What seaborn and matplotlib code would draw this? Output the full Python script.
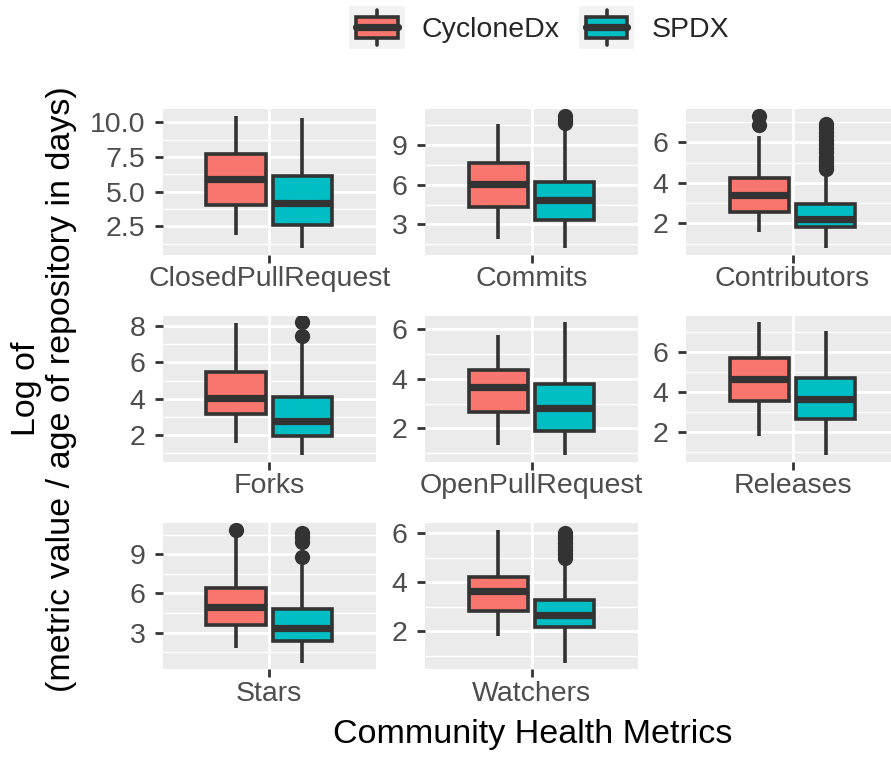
import numpy as np
import pandas as pd
import matplotlib
matplotlib.use("Agg")
import matplotlib.pyplot as plt
import seaborn as sns
from matplotlib.patches import Patch, Rectangle
from matplotlib.lines import Line2D
from matplotlib.legend_handler import HandlerBase
from matplotlib.ticker import AutoMinorLocator

# Metricas y formatos
metrics = ["ClosedPullRequest", "Commits", "Contributors", "Forks",
           "OpenPullRequest", "Releases", "Stars", "Watchers"]
formats = ["CycloneDx", "SPDX"]
colors = ["#F8766D", "#00BFC4"]

# Resumen de cajas (bigote bajo, Q1, mediana, Q3, bigote alto, atipicos)
cdx_low = [1.85, 1.87, 1.59, 1.58, 1.34, 1.77, 1.86, 1.79]
cdx_q1 = [4.00, 4.32, 2.58, 3.14, 2.66, 3.54, 3.56, 2.82]
cdx_med = [5.88, 6.02, 3.41, 4.02, 3.68, 4.62, 4.95, 3.64]
cdx_q3 = [7.73, 7.65, 4.23, 5.49, 4.33, 5.70, 6.42, 4.21]
cdx_high = [10.48, 10.58, 6.33, 8.19, 5.77, 7.47, 10.45, 6.14]
cdx_out = [[], [], [6.86, 7.32], [], [], [], [10.85], []]

spdx_low = [0.90, 1.20, 0.76, 0.90, 0.93, 0.84, 0.72, 0.71]
spdx_q1 = [2.62, 3.32, 1.82, 1.95, 1.88, 2.63, 2.35, 2.18]
spdx_med = [4.17, 4.82, 2.20, 2.77, 2.82, 3.62, 3.38, 2.65]
spdx_q3 = [6.12, 6.20, 2.95, 4.11, 3.77, 4.69, 4.85, 3.27]
spdx_high = [10.30, 10.45, 4.40, 7.00, 6.26, 7.03, 8.20, 4.73]
spdx_out = [[], [10.65, 10.9, 11.2],
            [4.7, 4.85, 5.0, 5.15, 5.3, 5.5, 5.7, 5.9, 6.1, 6.3, 6.5, 6.7, 6.9],
            [7.45, 8.2], [], [], [8.75, 9.9, 10.3, 10.6],
            [5.0, 5.15, 5.3, 5.45, 5.6, 5.75, 5.9, 6.0]]

# Marcas del eje y por panel
yticks = [[2.5, 5.0, 7.5, 10.0], [3, 6, 9], [2, 4, 6], [2, 4, 6, 8],
          [2, 4, 6], [2, 4, 6], [3, 6, 9], [2, 4, 6]]
ytick_labels = [["2.5", "5.0", "7.5", "10.0"], ["3", "6", "9"], ["2", "4", "6"],
                ["2", "4", "6", "8"], ["2", "4", "6"], ["2", "4", "6"],
                ["3", "6", "9"], ["2", "4", "6"]]

summary = {
    "CycloneDx": (cdx_low, cdx_q1, cdx_med, cdx_q3, cdx_high, cdx_out),
    "SPDX": (spdx_low, spdx_q1, spdx_med, spdx_q3, spdx_high, spdx_out),
}


def box_values(lo, q1, med, q3, hi, out):
    # muestra minima cuyos cuartiles y bigotes son los del resumen
    k = len(out) + 1
    return [lo] + [q1] * k + [med] * k + [q3] * k + [hi] * (k - len(out)) + list(out)


rows = []
for fmt in formats:
    lo, q1, med, q3, hi, out = summary[fmt]
    for i, m in enumerate(metrics):
        for v in box_values(lo[i], q1[i], med[i], q3[i], hi[i], out[i]):
            rows.append({"metric": m, "format": fmt, "value": v})
df = pd.DataFrame(rows)

sns.set_theme(style="darkgrid", rc={
    "axes.facecolor": "#EBEBEB", "grid.color": "white",
    "axes.edgecolor": "none", "figure.facecolor": "white",
})
plt.rcParams["font.family"] = ["Liberation Sans", "DejaVu Sans"]

W, H = 891, 758
fig = plt.figure(figsize=(W / 100, H / 100), dpi=100)

col_left = [162.7, 425.0, 686.0]
row_top = [109.0, 315.7, 523.3]
pw, ph = 213.0, 146.0
edge = "#333333"
lw = 2.6

for i, m in enumerate(metrics):
    r, c = divmod(i, 3)
    ax = fig.add_axes([col_left[c] / W, 1 - (row_top[r] + ph) / H, pw / W, ph / H])
    sns.boxplot(data=df[df["metric"] == m], x="metric", y="value", hue="format",
                hue_order=formats, palette=colors, saturation=1, ax=ax,
                width=0.75, gap=0.11, linewidth=lw, linecolor=edge,
                showcaps=False, legend=False,
                medianprops=dict(linewidth=2 * lw, color=edge),
                flierprops=dict(marker="o", markerfacecolor=edge, markeredgecolor=edge,
                                markersize=11, markeredgewidth=0))
    ax.set_xlim(-0.6, 0.6)
    ax.set_yticks(yticks[i], ytick_labels[i])
    ax.yaxis.set_minor_locator(AutoMinorLocator(2))
    ax.set_axisbelow(True)
    ax.grid(True, which="major", axis="both", color="white", linewidth=1.9)
    ax.grid(True, which="minor", axis="y", color="white", linewidth=0.95)
    ax.set_xlabel("")
    ax.set_ylabel("")
    for s in ax.spines.values():
        s.set_visible(False)
    ax.tick_params(axis="both", which="major", direction="out", length=5.5, width=2.0,
                   color=edge, labelcolor="#4D4D4D", labelsize=20.5,
                   bottom=True, left=True)
    ax.tick_params(axis="y", pad=7)
    ax.tick_params(axis="x", pad=2.7)
    ax.tick_params(which="minor", left=False, bottom=False)


class BoxKey(HandlerBase):
    def create_artists(self, legend, orig_handle, xdescent, ydescent,
                       width, height, fontsize, trans):
        x0, y0 = -xdescent, -ydescent
        bg = Rectangle((x0, y0), width, height, facecolor="#F2F2F2",
                       edgecolor="none", transform=trans)
        wl = Line2D([x0 + width / 2] * 2, [y0 + 0.1 * height, y0 + 0.9 * height],
                    color=edge, lw=lw, transform=trans)
        box = Rectangle((x0 + 0.125 * width, y0 + 0.25 * height), 0.75 * width, 0.5 * height,
                        facecolor=orig_handle.get_facecolor(), edgecolor=edge, lw=lw,
                        transform=trans)
        med = Line2D([x0 + 0.125 * width, x0 + 0.875 * width], [y0 + 0.5 * height] * 2,
                     color=edge, lw=2 * lw, transform=trans)
        return [bg, wl, box, med]


handles = [Patch(facecolor=col, label=f) for f, col in zip(formats, colors)]
fig.legend(handles=handles, loc="center", bbox_to_anchor=(538.8 / W, 1 - 27.5 / H),
           ncol=2, frameon=False, fontsize=20.5, borderpad=0, borderaxespad=0,
           handlelength=1.96, handleheight=1.93, handletextpad=0.59,
           columnspacing=0.68, handler_map={Patch: BoxKey()})

fig.text(533 / W, 1 - 735 / H, "Community Health Metrics", ha="center", va="center",
         fontsize=24.5, color="black")
fig.text(44 / W, 1 - 389 / H, "Log of\n(metric value / age of repository in days)",
         rotation=90, ha="center", va="center", multialignment="center",
         fontsize=24.5, color="black")

fig.savefig("out.png", dpi=100)
